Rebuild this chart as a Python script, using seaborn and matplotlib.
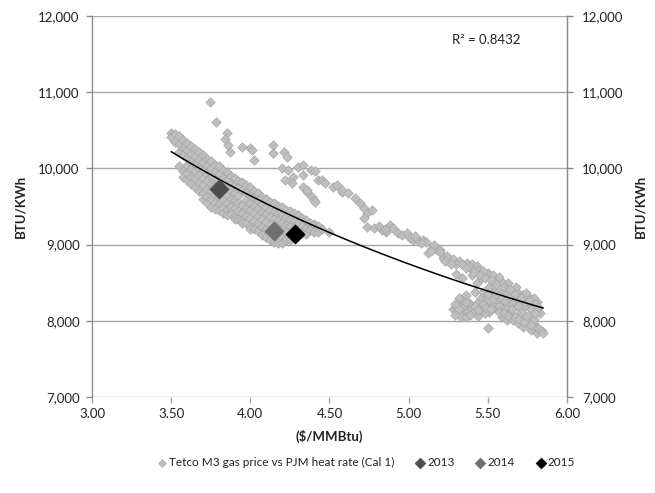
import numpy as np
import pandas as pd
import matplotlib
matplotlib.use("Agg")
import matplotlib.pyplot as plt
import seaborn as sns

# ---------------- data ----------------
# main dense band: column x positions and the heat rates in each column
band_cols_x = [3.500, 3.525, 3.550, 3.575, 3.600, 3.625, 3.650, 3.675, 3.700, 3.725,
               3.750, 3.775, 3.800, 3.825, 3.850, 3.875, 3.900, 3.925, 3.950, 3.975,
               4.000, 4.025, 4.050, 4.075, 4.100, 4.125, 4.150, 4.175, 4.200, 4.225,
               4.250, 4.275, 4.300, 4.325, 4.350, 4.375, 4.400, 4.425, 4.450, 4.500]
band_cols_y = [
    [10470, 10410],
    [10450, 10350],
    [10420, 10320, 10220, 10030],
    [10370, 10270, 10170, 9970, 9890],
    [10340, 10240, 10140, 10040, 9940, 9850],
    [10290, 10190, 10090, 9990, 9890, 9800],
    [10260, 10160, 10060, 9960, 9860, 9760],
    [10210, 10110, 10010, 9910, 9810, 9710],
    [10180, 10080, 9980, 9880, 9780, 9680, 9600],
    [10130, 10030, 9930, 9830, 9730, 9630, 9540],
    [10100, 10000, 9900, 9800, 9700, 9600, 9500],
    [10050, 9950, 9850, 9750, 9650, 9550, 9470],
    [10030, 9930, 9830, 9730, 9630, 9530, 9450],
    [9980, 9880, 9780, 9680, 9580, 9480, 9420],
    [9950, 9850, 9750, 9650, 9550, 9450, 9390],
    [9900, 9800, 9700, 9600, 9500, 9400],
    [9880, 9780, 9680, 9580, 9480, 9380, 9330],
    [9840, 9740, 9640, 9540, 9440, 9340],
    [9820, 9720, 9520, 9420, 9320, 9280],
    [9780, 9680, 9580, 9480, 9380, 9280],
    [9750, 9650, 9550, 9450, 9350, 9250, 9200],
    [9710, 9610, 9510, 9410, 9310, 9210],
    [9680, 9580, 9480, 9380, 9280, 9180],
    [9630, 9530, 9430, 9330, 9230, 9130],
    [9600, 9500, 9400, 9300, 9200, 9100],
    [9560, 9460, 9360, 9260, 9160, 9060],
    [9540, 9440, 9340, 9240, 9140, 9040],
    [9510, 9410, 9310, 9210, 9110, 9020],
    [9490, 9390, 9290, 9190, 9090, 9020],
    [9460, 9360, 9260, 9160, 9060],
    [9440, 9340, 9240, 9140, 9060],
    [9410, 9310, 9210, 9110],
    [9390, 9290, 9190, 9110],
    [9350, 9250, 9150],
    [9320, 9220, 9140],
    [9290, 9190],
    [9270, 9170],
    [9240, 9160],
    [9210],
    [9160],
]

# upper sparse stream
upper_x = [3.745, 3.780, 3.850, 3.840, 3.860, 3.870, 3.950, 4.000, 4.010, 4.020,
           4.140, 4.140, 4.210, 4.230, 4.200, 4.240, 4.270, 4.300, 4.330, 4.330,
           4.380, 4.410, 4.220, 4.260, 4.330, 4.360, 4.360, 4.390, 4.400, 4.410,
           4.430, 4.450, 4.470, 4.520, 4.550, 4.580, 4.580, 4.620, 4.660, 4.690,
           4.720, 4.740, 4.770, 4.720]
upper_y = [10873, 10611, 10470, 10380, 10310, 10220, 10280, 10270, 10240, 10110,
           10310, 10200, 10220, 10150, 10010, 9980, 9890, 10020, 10050, 9920,
           9980, 9960, 9850, 9810, 9750, 9690, 9720, 9630, 9590, 9560,
           9850, 9850, 9810, 9760, 9780, 9690, 9720, 9680, 9615, 9550,
           9485, 9420, 9460, 9350]

# middle stream (4.7 - 5.45 $/MMBtu)
middle_x = [4.740, 4.780, 4.830, 4.860, 4.880, 4.900, 4.930, 4.960, 4.990, 5.010,
            5.030, 5.060, 5.090, 5.110, 5.120, 5.150, 5.180, 5.200, 5.160, 5.220,
            5.200, 5.250, 5.280, 5.320, 5.370, 5.400, 5.430, 4.810, 4.850, 5.040,
            5.080, 5.140, 5.240, 5.300]
middle_y = [9235, 9222, 9195, 9170, 9260, 9222, 9155, 9130, 9155, 9090,
            9065, 9065, 9065, 9040, 8895, 8960, 8935, 8935, 8990, 8830,
            8900, 8800, 8805, 8780, 8765, 8740, 8715, 9240, 9210, 9110,
            9020, 8920, 8850, 8740]

# lower-right cloud
lower_x = [5.230, 5.270, 5.340, 5.380, 5.440, 5.500, 5.470, 5.530, 5.560, 5.590,
           5.620, 5.660, 5.690, 5.720, 5.750, 5.780, 5.810, 5.570, 5.630, 5.680,
           5.740, 5.790, 5.300, 5.340, 5.430, 5.510, 5.460, 5.400,
           5.280, 5.300, 5.310, 5.330, 5.340, 5.350, 5.370, 5.380, 5.400, 5.410,
           5.430, 5.440, 5.450, 5.460, 5.330, 5.290, 5.360, 5.420,
           5.500, 5.510, 5.530, 5.560, 5.590, 5.620, 5.640, 5.660, 5.690, 5.720,
           5.770, 5.810, 5.500, 5.480, 5.540, 5.580, 5.610, 5.650, 5.700, 5.750,
           5.790, 5.830, 5.600, 5.680, 5.730, 5.550, 5.520, 5.640, 5.760, 5.810,
           5.290, 5.320, 5.360, 5.390, 5.420, 5.360, 5.440, 5.470, 5.480, 5.320,
           5.470, 5.500, 5.530, 5.550, 5.570, 5.590, 5.610, 5.490, 5.520, 5.570,
           5.600, 5.630, 5.650, 5.670, 5.700, 5.710, 5.730, 5.750, 5.770, 5.790,
           5.820, 5.840, 5.690, 5.730, 5.770, 5.800, 5.850,
           5.360, 5.410, 5.450, 5.480, 5.520, 5.550, 5.600, 5.640, 5.670, 5.710,
           5.760, 5.800, 5.820]
lower_y = [8780, 8740, 8740, 8710, 8670, 8630, 8650, 8600, 8540, 8510,
           8450, 8400, 8370, 8340, 8320, 8290, 8250, 8580, 8500, 8440,
           8370, 8300, 8620, 8566, 8500, 8450, 8560, 8600,
           8150, 8200, 8240, 8100, 8280, 8180, 8110, 8230, 8160, 8120,
           8240, 8060, 8175, 8300, 8050, 8220, 8340, 8380,
           8280, 8110, 8210, 8150, 8055, 8015, 8110, 8015, 7975, 7925,
           7885, 7845, 7910, 8200, 8330, 8250, 8180, 8220, 8080, 8010,
           7960, 8100, 8390, 8280, 8180, 8400, 8350, 8320, 8230, 8150,
           8080, 8160, 8050, 8080, 8200, 8250, 8140, 8220, 8100, 8300,
           8380, 8350, 8290, 8350, 8200, 8300, 8260, 8170, 8150, 8120,
           8100, 8060, 8150, 8050, 8020, 8120, 7990, 8060, 7950, 8020,
           7900, 7870, 8200, 8250, 8150, 8100, 7840,
           8690, 8640, 8600, 8560, 8530, 8480, 8440, 8420, 8350, 8300,
           8270, 8220, 8180]

# yearly averages
years = ["2013", "2014", "2015"]
year_x = [3.80, 4.15, 4.28]
year_y = [9730, 9180, 9140]
year_colors = ["#4d4d4d", "#6f6f6f", "#000000"]

series_label = "Tetco M3 gas price vs PJM heat rate (Cal 1)"
r2_text = "R\u00b2 = 0.8432"
x_ticks = [3.00, 3.50, 4.00, 4.50, 5.00, 5.50, 6.00]
y_ticks = [7000, 8000, 9000, 10000, 11000, 12000]

# ---------------- assemble ----------------
bx, by = [], []
for cx, ys in zip(band_cols_x, band_cols_y):
    for yv in ys:
        bx.append(cx)
        by.append(yv)
df = pd.DataFrame({
    "price": bx + upper_x + middle_x + lower_x,
    "heat": by + upper_y + middle_y + lower_y,
})

# power trendline fitted on the data
b, loga = np.polyfit(np.log(df["price"]), np.log(df["heat"]), 1)
fx = np.linspace(df["price"].min(), df["price"].max(), 200)
fit_df = pd.DataFrame({"price": fx, "heat": np.exp(loga) * fx ** b})

# ---------------- plot ----------------
sns.set_style("white")
plt.rcParams["font.family"] = ["Lato", "DejaVu Sans"]

fig = plt.figure(figsize=(6.55, 4.93), dpi=100)
ax = fig.add_axes([0.1405, 0.1947, 0.7251, 0.7728])

grid_c = "#a6a6a6"
for yv in y_ticks:
    ax.axhline(yv, color=grid_c, lw=1.0, zorder=0)

sns.scatterplot(data=df, x="price", y="heat", ax=ax, marker="D", s=24,
                color="#bebebe", edgecolor="#a0a0a0", linewidth=0.4,
                label=series_label, zorder=2)
sns.lineplot(data=fit_df, x="price", y="heat", ax=ax, color="black", lw=1.1,
             zorder=3, legend=False)
for yr, xv, yv, c in zip(years, year_x, year_y, year_colors):
    sns.scatterplot(x=[xv], y=[yv], ax=ax, marker="D", s=95, color=c,
                    edgecolor=c, linewidth=0.5, label=yr, zorder=4)

ax.set_xlim(3.0, 6.0)
ax.set_ylim(7000, 12000)
ax.set_xticks(x_ticks)
ax.set_xticklabels([f"{v:.2f}" for v in x_ticks])
ax.set_yticks(y_ticks)
ax.set_yticklabels([f"{v:,}" for v in y_ticks])
ax.set_xlabel("")
ax.set_ylabel("")
for s in ["top", "bottom"]:
    ax.spines[s].set_visible(False)
for s in ["left", "right"]:
    ax.spines[s].set_visible(True)
    ax.spines[s].set_color("#8c8c8c")
    ax.spines[s].set_linewidth(1.0)
ax.tick_params(axis="y", which="both", left=True, length=4, width=1,
               color="#8c8c8c", pad=5, labelsize=9.5, labelcolor="#222222")
ax.tick_params(axis="x", which="both", bottom=True, length=4, width=1,
               color="#a6a6a6", pad=4, labelsize=9.5, labelcolor="#222222")

ax2 = ax.twinx()
ax2.set_ylim(7000, 12000)
ax2.set_yticks(y_ticks)
ax2.set_yticklabels([f"{v:,}" for v in y_ticks])
for s in ["top", "bottom", "left"]:
    ax2.spines[s].set_visible(False)
ax2.spines["right"].set_color("#8c8c8c")
ax2.tick_params(axis="y", right=True, length=4, width=1, color="#8c8c8c",
                pad=7, labelsize=9.5, labelcolor="#222222")

ax.text(0.83, 0.937, r2_text, transform=ax.transAxes, ha="center", va="center",
        fontsize=9.5, color="#222222")

fig.text(0.031, 0.582, "BTU/KWh", rotation=90, ha="center", va="center",
         fontsize=9.5, fontweight="bold", color="#222222")
fig.text(0.977, 0.582, "BTU/KWh", rotation=90, ha="center", va="center",
         fontsize=9.5, fontweight="bold", color="#222222")
fig.text(0.503, 0.114, "($/MMBtu)", ha="center", va="center",
         fontsize=9.5, fontweight="bold", color="#222222")

handles, labels = ax.get_legend_handles_labels()
ax.get_legend().remove()
leg = fig.legend(handles, labels, loc="center", bbox_to_anchor=(0.557, 0.061),
                 ncol=4, frameon=False, fontsize=8.5, handletextpad=0.0,
                 columnspacing=1.6, handlelength=1.2)
for i, h in enumerate(leg.legend_handles):
    h.set_sizes([16] if i == 0 else [30])
for t in leg.get_texts():
    t.set_color("#222222")

fig.savefig("out.png", dpi=100)
